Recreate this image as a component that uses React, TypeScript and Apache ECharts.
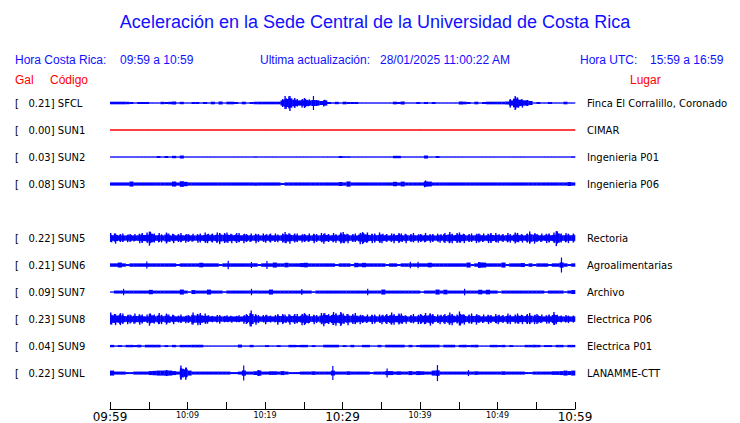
import React, { useEffect, useRef } from 'react';
import * as echarts from 'echarts';

// ---------- texts ----------
const TITLE = 'Aceleración en la Sede Central de la Universidad de Costa Rica';
const HORA_CR_LABEL = 'Hora Costa Rica:';
const HORA_CR = '09:59 a 10:59';
const ULTIMA_LABEL = 'Ultima actualización:';
const ULTIMA = '28/01/2025 11:00:22 AM';
const HORA_UTC_LABEL = 'Hora UTC:';
const HORA_UTC = '15:59 a 16:59';

// ---------- stations (slot 4 = empty / SUN4 missing) ----------
const CODES = ['SFCL', 'SUN1', 'SUN2', 'SUN3', '', 'SUN5', 'SUN6', 'SUN7', 'SUN8', 'SUN9', 'SUNL'];
const PEAK_GAL = ['0.21', '0.00', '0.03', '0.08', '', '0.22', '0.21', '0.09', '0.23', '0.04', '0.22'];
const PLACES = [
  'Finca El Corralillo, Coronado', 'CIMAR', 'Ingenieria P01', 'Ingenieria P06', '',
  'Rectoria', 'Agroalimentarias', 'Archivo', 'Electrica P06', 'Electrica P01', 'LANAMME-CTT',
];

// time axis: minutes after 09:59, labels every 10 minutes
const WINDOW_MIN = 60;
const TIME_LABELS = ['09:59', '10:09', '10:19', '10:29', '10:39', '10:49', '10:59'];

// ---------- envelopes (relative amplitude per time bin) ----------
const ENV_SFCL = [
  1.3, 1.3, 1.3, 1.3, 1.2, 1.0, 0.6, 1.0, 1.0, 1.0,
  0.6, 0.6, 0.6, 1.2, 1.0, 1.2, 1.5, 0.6, 1.2, 0.6,
  0.6, 1.0, 1.0, 0.6, 1.0, 0.6, 1.3, 0.6, 1.5, 0.6,
  1.3, 1.3, 1.0, 0.6, 1.3, 0.6, 1.0, 1.3, 1.3, 1.3,
  1.3, 1.3, 1.3, 1.3, 4.0, 6.5, 7.5, 5.0, 3.5, 4.0,
  5.0, 3.0, 7.0, 3.0, 2.0, 3.0, 1.0, 0.7, 1.2, 0.6,
  1.3, 1.0, 1.0, 1.0, 0.6, 0.6, 0.6, 0.6, 0.6, 0.6,
  0.6, 0.6, 0.6, 1.3, 1.0, 1.5, 0.6, 0.6, 0.6, 1.0,
  0.6, 1.0, 0.6, 1.0, 0.6, 0.6, 0.6, 0.6, 0.6, 0.6,
  1.5, 1.3, 1.0, 0.6, 1.3, 0.6, 1.0, 1.3, 1.3, 1.3,
  1.3, 1.3, 1.5, 4.0, 7.0, 5.0, 4.0, 3.0, 2.0, 0.6,
  1.0, 0.6, 0.6, 1.0, 0.6, 0.6, 0.6, 1.3, 0.6, 0.6,
];
const ENV_SUN1 = [0, 0, 0, 0, 0, 0, 0, 0, 0, 0, 0, 0];
const ENV_SUN2 = [
  0.5, 0.5, 0.5, 0.5, 0.5, 0.5, 0.5, 0.5, 0.5, 0.5,
  0.5, 0.5, 1.0, 0.5, 1.0, 0.5, 1.2, 0.5, 1.5, 0.5,
  0.5, 0.5, 0.5, 0.5, 0.5, 0.5, 0.5, 0.5, 0.5, 0.5,
  0.5, 0.5, 0.5, 0.5, 0.5, 0.5, 0.5, 0.5, 0.5, 0.5,
  0.5, 0.5, 0.5, 0.5, 0.5, 0.5, 0.5, 0.5, 0.5, 0.5,
  0.5, 0.5, 0.5, 0.5, 0.5, 0.5, 0.5, 0.5, 0.5, 1.0,
  0.8, 0.8, 0.5, 0.5, 0.5, 0.5, 0.5, 0.5, 0.5, 0.5,
  0.5, 0.5, 0.5, 1.2, 1.2, 0.5, 0.5, 0.5, 0.5, 0.5,
  0.5, 1.5, 0.5, 0.5, 1.0, 0.5, 0.5, 0.5, 0.5, 0.5,
  0.5, 0.5, 0.5, 0.5, 0.5, 0.5, 0.5, 0.5, 0.5, 0.5,
  0.5, 0.5, 0.5, 0.5, 0.5, 0.5, 0.5, 0.5, 0.5, 0.5,
  0.5, 0.5, 0.5, 0.5, 0.5, 0.5, 0.5, 0.5, 0.5, 0.8,
];
const ENV_SUN3 = [
  1.6, 1.6, 1.6, 1.6, 1.6, 2.5, 1.6, 1.6, 1.6, 1.6,
  1.6, 1.6, 1.6, 1.6, 1.6, 1.6, 2.5, 1.6, 2.8, 2.2,
  1.6, 1.6, 1.6, 1.6, 1.6, 1.6, 1.6, 1.6, 1.6, 1.6,
  1.6, 1.6, 1.6, 1.6, 1.6, 1.6, 1.6, 1.6, 1.6, 1.6,
  1.6, 1.6, 1.6, 1.6, 1.0, 1.6, 1.6, 1.6, 1.6, 1.6,
  1.6, 1.6, 1.6, 1.6, 1.6, 1.6, 1.6, 1.6, 1.6, 2.0,
  1.6, 2.6, 1.6, 1.6, 1.6, 1.6, 1.6, 1.6, 1.6, 1.6,
  1.6, 1.6, 1.6, 2.2, 1.6, 2.4, 1.6, 1.6, 1.6, 1.6,
  1.6, 3.0, 2.4, 1.6, 1.6, 1.6, 1.6, 1.6, 1.6, 1.6,
  1.6, 1.6, 1.6, 1.6, 1.6, 1.6, 1.6, 1.6, 1.6, 1.6,
  1.6, 1.6, 1.6, 1.6, 1.6, 1.6, 1.6, 1.6, 1.6, 1.6,
  1.6, 1.6, 1.6, 1.6, 1.6, 1.6, 1.6, 1.6, 2.0, 1.6,
];
const ENV_SUN5 = [
  4.5, 5.0, 4.0, 4.0, 3.5, 4.0, 3.5, 4.5, 5.0, 5.0,
  7.0, 4.5, 4.5, 3.8, 5.5, 4.0, 4.5, 4.0, 4.5, 4.0,
  4.0, 3.8, 4.0, 4.5, 5.0, 4.5, 4.5, 5.0, 5.5, 5.0,
  5.0, 4.5, 5.0, 4.5, 4.5, 4.0, 4.0, 4.5, 4.0, 4.0,
  4.0, 4.5, 4.0, 3.5, 4.5, 5.5, 5.0, 4.5, 4.0, 3.8,
  4.0, 4.0, 4.5, 4.0, 4.5, 5.0, 4.0, 4.5, 4.0, 5.5,
  5.5, 4.5, 4.0, 4.0, 5.5, 6.0, 5.0, 4.5, 4.5, 5.0,
  4.5, 4.0, 4.0, 4.5, 5.0, 4.0, 4.5, 4.0, 4.5, 4.0,
  4.0, 4.5, 4.0, 4.0, 3.8, 4.0, 5.0, 5.5, 4.5, 5.0,
  5.0, 4.5, 4.0, 4.0, 4.5, 4.5, 4.0, 4.5, 5.0, 4.5,
  4.0, 4.0, 4.5, 4.0, 5.5, 4.5, 4.0, 4.5, 6.0, 5.0,
  4.0, 4.0, 4.5, 4.5, 5.0, 7.5, 4.5, 4.5, 4.5, 4.5,
];
const ENV_SUN6 = [
  1.7, 1.7, 2.5, 1.7, 1.0, 1.7, 1.7, 1.7, 1.7, 3.5,
  1.7, 1.7, 1.7, 1.7, 1.7, 1.7, 1.7, 1.0, 1.7, 1.7,
  1.7, 1.7, 1.7, 2.3, 1.7, 1.7, 1.7, 1.7, 1.0, 1.7,
  4.2, 1.7, 1.7, 1.7, 1.7, 1.7, 3.0, 1.7, 1.0, 1.7,
  4.0, 1.7, 2.5, 1.7, 1.7, 2.3, 1.7, 1.7, 1.7, 2.0,
  2.3, 1.7, 1.7, 1.7, 1.7, 1.7, 1.7, 1.7, 1.0, 1.7,
  1.7, 1.7, 1.0, 2.2, 1.7, 2.2, 1.7, 1.7, 1.7, 1.7,
  1.7, 1.0, 1.7, 1.7, 1.0, 1.7, 1.7, 3.2, 1.7, 3.2,
  1.7, 1.7, 2.3, 1.7, 1.7, 1.7, 1.7, 1.7, 1.7, 1.7,
  1.7, 1.7, 2.5, 1.0, 1.7, 3.0, 2.5, 1.7, 1.7, 1.7,
  1.7, 2.5, 1.0, 1.7, 1.7, 1.7, 2.0, 1.0, 1.7, 1.0,
  1.7, 1.7, 1.7, 1.0, 1.7, 1.7, 7.5, 1.7, 1.0, 1.7,
];
const ENV_SUN7 = [
  0.6, 1.5, 1.5, 3.2, 1.5, 1.5, 1.5, 1.5, 1.5, 1.5,
  2.2, 1.5, 1.5, 1.5, 1.5, 1.5, 1.5, 1.5, 2.5, 1.5,
  0.8, 2.0, 1.5, 1.5, 1.5, 2.5, 1.5, 1.5, 1.5, 0.8,
  1.5, 1.5, 1.5, 1.5, 1.5, 1.5, 3.2, 1.5, 1.5, 1.5,
  1.5, 2.5, 1.5, 1.5, 1.5, 1.5, 1.5, 1.5, 1.5, 3.0,
  1.5, 1.5, 0.8, 1.5, 1.5, 1.5, 1.5, 1.5, 1.5, 1.5,
  1.5, 1.5, 1.5, 1.5, 1.5, 1.5, 3.2, 1.5, 1.5, 1.5,
  2.5, 1.5, 1.5, 1.5, 1.5, 1.5, 1.5, 1.5, 1.5, 1.5,
  0.8, 1.5, 1.5, 1.5, 2.5, 1.5, 2.3, 1.5, 1.5, 1.5,
  1.5, 3.3, 1.5, 1.5, 1.5, 2.3, 1.5, 2.3, 1.5, 1.5,
  0.8, 1.5, 1.5, 1.5, 1.5, 1.5, 1.5, 1.5, 1.5, 1.5,
  1.5, 1.5, 0.8, 1.5, 1.5, 1.5, 1.5, 0.8, 1.5, 2.0,
];
const ENV_SUN8 = [
  6.0, 5.5, 6.0, 5.0, 4.5, 4.5, 5.0, 5.0, 4.5, 4.0,
  6.0, 4.5, 5.5, 4.5, 5.5, 4.0, 4.5, 3.5, 4.0, 3.5,
  4.0, 6.0, 5.5, 6.0, 5.0, 4.0, 3.2, 3.5, 4.0, 3.2,
  3.2, 3.2, 3.2, 3.2, 4.0, 5.0, 8.0, 5.0, 4.0, 3.5,
  4.5, 3.5, 3.5, 5.0, 5.0, 4.0, 5.0, 5.0, 4.5, 5.5,
  6.0, 4.5, 4.5, 4.0, 5.5, 6.5, 5.0, 6.5, 6.0, 7.0,
  5.0, 5.5, 5.0, 5.5, 4.5, 4.0, 4.0, 4.5, 4.5, 4.0,
  4.5, 5.0, 6.0, 5.0, 5.5, 5.0, 4.0, 4.0, 4.5, 4.5,
  5.0, 5.5, 6.0, 5.0, 4.0, 4.5, 5.0, 6.0, 5.5, 4.5,
  7.0, 5.0, 4.5, 5.0, 5.0, 4.0, 4.0, 4.5, 4.0, 4.5,
  4.5, 4.0, 5.0, 4.5, 4.5, 5.0, 4.5, 5.0, 5.5, 4.5,
  5.0, 4.0, 4.0, 4.5, 6.5, 4.5, 3.5, 3.5, 3.5, 3.5,
];
const ENV_SUN9 = [
  1.2, 0.6, 1.0, 0.6, 1.2, 1.2, 1.0, 1.3, 0.6, 1.3,
  1.3, 1.3, 1.3, 0.6, 1.0, 0.6, 1.2, 0.6, 1.2, 1.2,
  1.2, 1.3, 1.3, 1.3, 0.6, 0.6, 0.6, 0.6, 0.6, 0.6,
  0.6, 0.6, 0.6, 1.5, 0.6, 0.6, 1.2, 0.6, 0.6, 0.6,
  1.0, 0.6, 0.6, 1.0, 0.6, 0.6, 1.2, 1.2, 1.0, 1.2,
  1.2, 0.6, 1.0, 0.6, 0.6, 1.3, 1.3, 1.3, 1.3, 0.6,
  1.0, 0.6, 1.2, 0.6, 0.6, 1.2, 1.2, 0.6, 0.6, 1.2,
  0.6, 1.3, 1.3, 1.3, 1.3, 1.3, 0.6, 1.2, 0.6, 1.0,
  1.3, 1.3, 1.3, 1.3, 1.3, 0.6, 1.3, 1.3, 1.3, 0.6,
  1.2, 1.3, 1.0, 1.2, 1.3, 0.6, 0.6, 0.6, 1.2, 1.2,
  1.0, 1.2, 0.6, 1.0, 0.6, 0.6, 0.6, 1.2, 1.2, 1.3,
  1.2, 0.6, 1.0, 1.0, 0.6, 1.2, 1.2, 0.6, 1.2, 1.2,
];
const ENV_SUNL = [
  2.5, 1.5, 1.5, 1.5, 1.0, 1.0, 1.5, 1.5, 1.5, 1.5,
  2.0, 2.2, 2.5, 2.5, 3.0, 2.5, 2.0, 1.5, 7.0, 6.0,
  2.5, 1.5, 1.5, 1.5, 1.5, 1.5, 1.5, 1.5, 1.5, 1.5,
  1.5, 1.0, 1.0, 1.5, 7.5, 1.5, 1.5, 1.8, 3.0, 1.5,
  1.5, 1.8, 1.8, 1.5, 2.0, 1.5, 1.0, 1.0, 1.0, 1.5,
  1.5, 1.5, 1.8, 1.5, 1.5, 1.5, 1.5, 7.0, 1.5, 1.5,
  1.5, 1.8, 1.5, 1.5, 1.5, 1.5, 1.5, 1.0, 1.5, 1.5,
  1.5, 4.5, 2.0, 1.5, 1.8, 1.5, 1.5, 2.0, 1.5, 2.0,
  1.8, 1.5, 1.5, 2.5, 8.0, 1.5, 1.5, 1.5, 1.5, 1.5,
  1.5, 1.5, 3.0, 1.5, 1.8, 1.5, 1.5, 1.5, 1.5, 1.5,
  1.5, 1.8, 1.5, 1.5, 1.5, 1.5, 1.5, 1.0, 1.0, 1.5,
  1.5, 1.5, 1.5, 1.5, 1.8, 1.8, 2.0, 2.5, 2.0, 2.5,
];
const ENVELOPES: (number[] | null)[] = [
  ENV_SFCL, ENV_SUN1, ENV_SUN2, ENV_SUN3, null, ENV_SUN5, ENV_SUN6, ENV_SUN7, ENV_SUN8, ENV_SUN9, ENV_SUNL,
];

// ---------- styles ----------
const BLUE = '#0000ff';
const RED = '#ff0000';
const TEXT_BLUE = '#1010ff';
const AMP_TO_ROW = 1 / 27; // envelope unit -> fraction of row spacing
const MIN_HALF_PX = 0.65;
const SANS = '"Liberation Sans", Arial, sans-serif';
const DEJAVU = '"DejaVu Sans", Verdana, sans-serif';

function buildSeries() {
  const series: any[] = [];
  ENVELOPES.forEach((env, slot) => {
    if (!env) return;
    const binW = WINDOW_MIN / env.length;
    const color = parseFloat(PEAK_GAL[slot]) === 0 ? RED : BLUE;
    const neigh = env.map((_, i) => {
      const l = env[Math.max(0, i - 1)];
      const r = env[Math.min(env.length - 1, i + 1)];
      return Math.max(l, r);
    });
    series.push({
      type: 'custom',
      name: CODES[slot],
      coordinateSystem: 'cartesian2d',
      silent: true,
      encode: { x: 0, y: 1 },
      data: env.map((v, i) => [i * binW, slot, v, neigh[i], i]),
      renderItem: (_params: any, api: any) => {
        const t = api.value(0) as number;
        const s = api.value(1) as number;
        const amp = api.value(2) as number;
        const nb = api.value(3) as number;
        const idx = api.value(4) as number;
        const a = api.coord([t, s]);
        const b = api.coord([t + binW, s]);
        const rowPx = Math.abs(api.coord([t, s + 1])[1] - a[1]);
        const k = rowPx * AMP_TO_ROW;
        const h = Math.max(amp * k, MIN_HALF_PX);
        const w = b[0] - a[0];
        const isolated = amp > nb * 1.7 && amp - nb > 1.2;
        const textured = !isolated && amp >= 3;
        let coreAmp = amp;
        if (isolated) coreAmp = Math.max(nb, amp * 0.35);
        else if (textured) coreAmp = Math.max(2.6, amp * 0.62);
        const core = Math.max(coreAmp * k, MIN_HALF_PX);
        const children: any[] = [
          { type: 'rect', shape: { x: a[0], y: a[1] - core, width: w + 0.3, height: 2 * core }, style: { fill: color } },
        ];
        if (isolated) {
          children.push({
            type: 'rect',
            shape: { x: a[0] + w * 0.35, y: a[1] - h, width: Math.max(w * 0.3, 1.2), height: 2 * h },
            style: { fill: color },
          });
        } else if (textured) {
          // jagged edge: two narrow strokes of different heights inside the bin
          const o1 = ((idx * 7) % 5) / 5;
          const o2 = ((idx * 3 + 2) % 5) / 5;
          const sw = 1.4;
          const h2 = Math.max(core, h * 0.82);
          const yOff = ((idx * 5) % 3 - 1) * 0.6;
          children.push({
            type: 'rect',
            shape: { x: a[0] + o1 * (w - sw), y: a[1] - h + yOff, width: sw, height: 2 * h },
            style: { fill: color },
          });
          children.push({
            type: 'rect',
            shape: { x: a[0] + o2 * (w - sw), y: a[1] - h2 - yOff, width: sw, height: 2 * h2 },
            style: { fill: color },
          });
        }
        return { type: 'group', children };
      },
    });
  });
  return series;
}

function text(x: number, y: number, t: string, fill: string, size: number, font: string, align = 'left') {
  return {
    type: 'text',
    x,
    y,
    silent: true,
    style: { text: t, fill, fontSize: size, fontFamily: font, align, verticalAlign: 'middle' },
  };
}

export default function App() {
  const ref = useRef<HTMLDivElement>(null);
  useEffect(() => {
    if (!ref.current) return;
    const chart = echarts.init(ref.current, undefined, { renderer: 'svg' });
    const yCommon = {
      type: 'value',
      inverse: true,
      min: -1,
      max: 11.33,
      interval: 1,
      splitLine: { show: false },
      axisLine: { show: false },
      axisTick: { show: false },
    };
    chart.setOption({
      animation: false,
      backgroundColor: '#ffffff',
      grid: { left: 110, right: 165, top: 76, bottom: 14 },
      xAxis: {
        type: 'value',
        min: 0,
        max: WINDOW_MIN,
        interval: 5,
        splitLine: { show: false },
        axisLine: { show: true, onZero: false, lineStyle: { color: '#000', width: 1 } },
        axisTick: { show: true, inside: true, length: 7, lineStyle: { color: '#000', width: 1 } },
        axisLabel: {
          margin: 2,
          showMaxLabel: true,
          showMinLabel: true,
          formatter: (v: number) => {
            if (v % 10 !== 0) return '';
            const i = v / 10;
            return i % 3 === 0 ? `{big|${TIME_LABELS[i]}}` : `{small|${TIME_LABELS[i]}}`;
          },
          rich: {
            big: { fontSize: 12, fontFamily: DEJAVU, color: '#000' },
            small: { fontSize: 8, fontFamily: DEJAVU, color: '#000' },
          },
        },
      },
      yAxis: [
        {
          ...yCommon,
          position: 'left',
          axisLabel: {
            align: 'left',
            margin: 95,
            color: '#000',
            fontSize: 10,
            fontFamily: DEJAVU,
            formatter: (v: number) => {
              const s = Math.round(v);
              if (Math.abs(v - s) > 1e-6 || !CODES[s]) return '';
              return `[   ${PEAK_GAL[s]}] ${CODES[s]}`;
            },
          },
        },
        {
          ...yCommon,
          position: 'right',
          axisLabel: {
            align: 'left',
            margin: 12,
            color: '#000',
            fontSize: 10,
            fontFamily: DEJAVU,
            formatter: (v: number) => {
              const s = Math.round(v);
              if (Math.abs(v - s) > 1e-6 || !PLACES[s]) return '';
              return PLACES[s];
            },
          },
        },
      ],
      graphic: [
        text(375, 22, TITLE, TEXT_BLUE, 18, SANS, 'center'),
        text(15, 60, HORA_CR_LABEL, TEXT_BLUE, 12, SANS),
        text(120, 60, HORA_CR, TEXT_BLUE, 12, SANS),
        text(260, 60, ULTIMA_LABEL, TEXT_BLUE, 12, SANS),
        text(380, 60, ULTIMA, TEXT_BLUE, 12, SANS),
        text(580, 60, HORA_UTC_LABEL, TEXT_BLUE, 12, SANS),
        text(650, 60, HORA_UTC, TEXT_BLUE, 12, SANS),
        text(15, 80, 'Gal', RED, 12, SANS),
        text(50, 80, 'Código', RED, 12, SANS),
        text(630, 80, 'Lugar', RED, 12, SANS),
      ],
      series: buildSeries(),
    });
    return () => chart.dispose();
  }, []);
  return <div ref={ref} style={{ width: 740, height: 423, position: 'absolute', left: 0, top: 0 }} />;
}
